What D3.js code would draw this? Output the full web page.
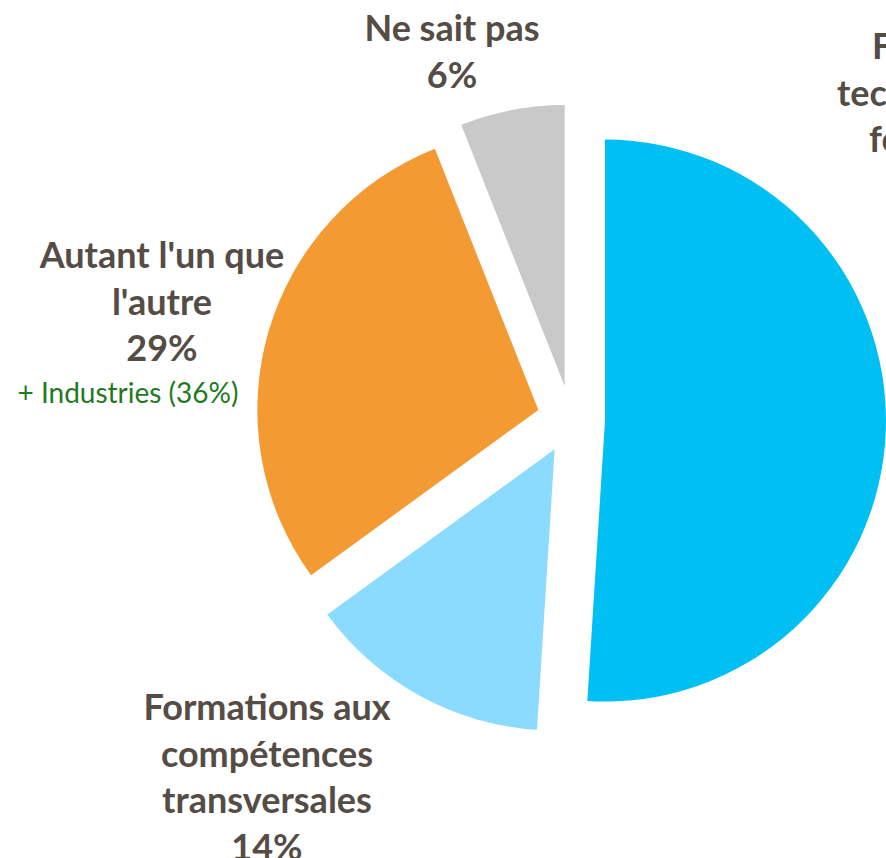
<!DOCTYPE html>
<html>
<head>
<meta charset="utf-8">
<script src="https://cdn.jsdelivr.net/npm/d3@7/dist/d3.min.js"></script>
<style>
  html, body { margin: 0; padding: 0; background: #ffffff; overflow: hidden; }
  svg { display: block; }
</style>
</head>
<body>
<script>
// Slice order runs clockwise from 12 o'clock
const categories = [
  "Formations techniques ou fonctionnelles",
  "Formations aux compétences transversales",
  "Autant l'un que l'autre",
  "Ne sait pas"
];
const shares = [51, 14, 29, 6];
const sliceColors = ["#00bff3", "#8adbff", "#f49a33", "#c9c9c9"];
const labelLines = [
  ["Formations", "techniques ou", "fonctionnelles"],
  ["Formations aux", "compétences", "transversales", "14%"],
  ["Autant l'un que", "l'autre", "29%"],
  ["Ne sait pas", "6%"]
];
const noteText = "+ Industries (36%)";

const W = 886, H = 858;
const cx = 571, cy = 419.5, R = 281, explode = 34;

// label anchors: centre x and first baseline (the first label runs off the
// right edge, so its lines are placed by their left edges instead)
const labelPos = [
  { starts: [872, 837, 869], y: 59 },
  { x: 267, y: 720 },
  { x: 162, y: 268 },
  { x: 452, y: 41 }
];
const lineStep = 46.5;

const svg = d3.select("body").append("svg")
  .attr("width", W).attr("height", H)
  .style("background", "#ffffff");

const pie = d3.pie().sort(null).value(d => d).startAngle(0).endAngle(2 * Math.PI);
const arcs = pie(shares);
const arc = d3.arc().innerRadius(0).outerRadius(R);

const g = svg.append("g").attr("transform", `translate(${cx},${cy})`);
g.selectAll("path.slice")
  .data(arcs)
  .join("path")
  .attr("class", "slice")
  .attr("fill", (d, i) => sliceColors[i])
  .attr("transform", d => {
    const a = (d.startAngle + d.endAngle) / 2;
    return `translate(${explode * Math.sin(a)},${-explode * Math.cos(a)})`;
  })
  .attr("d", arc);

const font = "Lato, 'Open Sans', sans-serif";
const textColor = "#554d45";
const fontSize = 36;

labelLines.forEach((lines, i) => {
  const p = labelPos[i];
  const t = svg.append("text")
    .attr("font-family", font)
    .attr("font-weight", 700)
    .attr("font-size", fontSize)
    .attr("fill", textColor)
    .attr("text-anchor", p.starts ? "start" : "middle");
  t.selectAll("tspan").data(lines).join("tspan")
    .attr("x", (d, k) => p.starts ? p.starts[k] : p.x)
    .attr("y", (d, k) => p.y + k * lineStep)
    .text(d => d);
});

svg.append("text")
  .attr("font-family", font)
  .attr("font-size", 28)
  .attr("fill", "#1f7a1f")
  .attr("text-anchor", "middle")
  .attr("x", 128)
  .attr("y", 403)
  .text(noteText);
</script>
</body>
</html>
